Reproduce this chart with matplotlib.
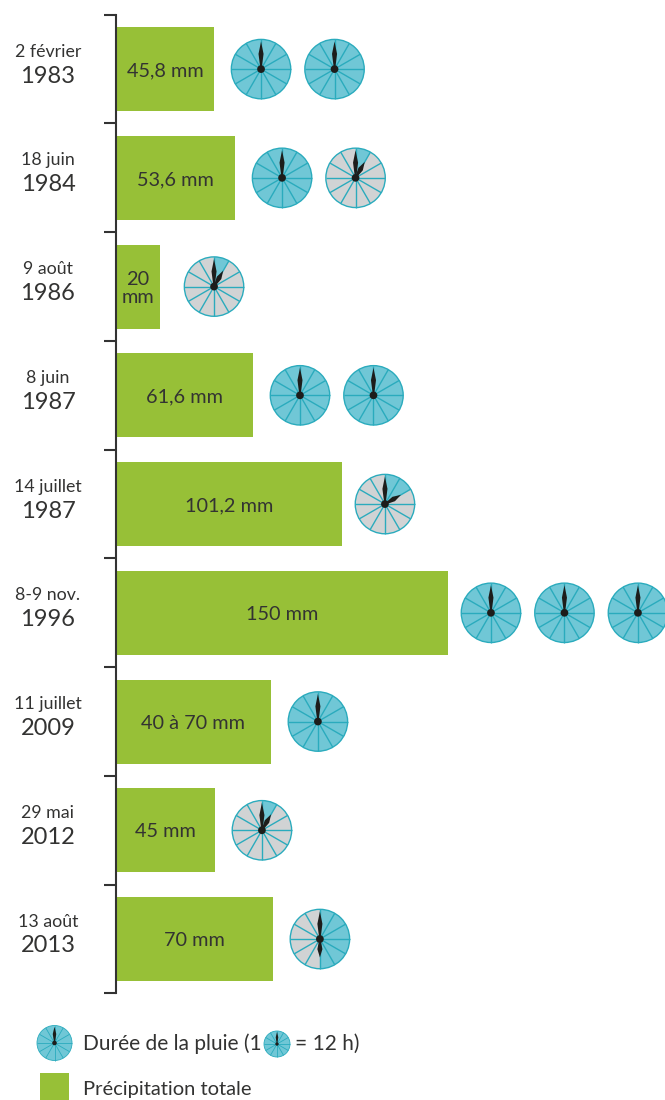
import matplotlib
matplotlib.use("Agg")
import matplotlib.pyplot as plt
import numpy as np
from matplotlib.patches import Circle, Polygon, Rectangle, Wedge

plt.rcParams["font.family"] = ["Lato", "DejaVu Sans"]

dates = ["2 février", "18 juin", "9 août", "8 juin", "14 juillet", "8-9 nov.",
         "11 juillet", "29 mai", "13 août"]
years = ["1983", "1984", "1986", "1987", "1987", "1996", "2009", "2012", "2013"]
# bar lengths as drawn in the picture, they differ a bit from the printed labels
rain_mm = [44.3, 53.8, 19.9, 61.9, 102.1, 150, 70, 44.7, 70.9]
rain_labels = ["45,8 mm", "53,6 mm", "20\nmm", "61,6 mm", "101,2 mm", "150 mm",
               "40 à 70 mm", "45 mm", "70 mm"]
duration_h = [24, 13, 1, 24, 2, 36, 12, 1, 6]

# pixel gap between bar end and first clock
clock_gap = [47, 47, 54, 47, 43, 43, 47, 47, 47]
clock_step = 73.5
clock_r = 29.7

GREEN = "#97c037"
BLUE = "#70c7d6"
GREY = "#d1d3d4"
EDGE = "#2aabbd"
DARK = "#1d1d1b"
TEXT = "#333332"

W, H = 665, 1100
px_per_mm = 2.213
row_px = 108.74
first_row = 69.1

fig = plt.figure(figsize=(W / 100, H / 100), dpi=100)
ax = fig.add_axes([0, 0, 1, 1])
ax.set_xlim(-116 / px_per_mm, (W - 116) / px_per_mm)
ax.set_ylim((H - first_row) / row_px, -first_row / row_px)
ax.patch.set_visible(False)

rows = np.arange(len(rain_mm))
ax.barh(rows, rain_mm, height=84 / row_px, color=GREEN, linewidth=0)

for s in ["top", "right", "bottom"]:
    ax.spines[s].set_visible(False)
ax.spines["left"].set_position(("data", 0))
ax.spines["left"].set_bounds(-0.5, len(rain_mm) - 0.5)
ax.spines["left"].set_linewidth(1.5)
ax.spines["left"].set_color("#333333")
ax.set_xticks([])
ax.set_yticks(np.arange(len(rain_mm) + 1) - 0.5)
ax.set_yticklabels([])
ax.tick_params(axis="y", length=8.5, width=1.5, color="#333333")

for i in rows:
    ax.annotate(dates[i], (0, i), xytext=(-49, 12.5), textcoords="offset points",
                ha="center", va="center", fontsize=12.8, color=TEXT)
    ax.annotate(years[i], (0, i), xytext=(-49, -5), textcoords="offset points",
                ha="center", va="center", fontsize=17, color=TEXT)
    ax.annotate(rain_labels[i], (rain_mm[i] / 2, i), xytext=(0, -1.2),
                textcoords="offset points", ha="center", va="center",
                fontsize=14.3, color=TEXT, linespacing=1.05)

# overlay in pixels for the clocks, y goes up so display = data
ov = fig.add_axes([0, 0, 1, 1])
ov.set_xlim(0, W)
ov.set_ylim(0, H)
ov.axis("off")


def hand(cx, cy, r, hour, length, width):
    a = np.deg2rad(90 - 30 * hour)
    u = np.array([np.cos(a), np.sin(a)])
    n = np.array([-u[1], u[0]])
    c = np.array([cx, cy])
    pts = [c + n * r * 0.02, c + u * r * length * 0.55 + n * r * width,
           c + u * r * length, c + u * r * length * 0.55 - n * r * width,
           c - n * r * 0.02]
    ov.add_patch(Polygon(pts, closed=True, fc=DARK, ec="none", zorder=5))


def clock(cx, cy, r, hours):
    lw = max(r / 30, 0.6)
    ov.add_patch(Circle((cx, cy), r, fc=GREY if hours < 12 else BLUE, ec="none", zorder=2))
    if hours < 12:
        ov.add_patch(Wedge((cx, cy), r, 90 - 30 * hours, 90, fc=BLUE, ec="none", zorder=2))
    for k in range(12):
        a = np.deg2rad(30 * k)
        ov.plot([cx, cx + r * np.cos(a)], [cy, cy + r * np.sin(a)], color=EDGE,
                lw=lw, zorder=3, solid_capstyle="butt")
    ov.add_patch(Circle((cx, cy), r, fc="none", ec=EDGE, lw=lw, zorder=4))
    w = 0.085 if r >= 29 else 0.1
    hand(cx, cy, r, 0, 0.93, w)
    if hours < 12:
        hand(cx, cy, r, hours, 0.62, w)
    ov.add_patch(Circle((cx, cy), r * 0.13, fc=DARK, ec="none", zorder=6))


for i in rows:
    end_x, y = ax.transData.transform((rain_mm[i], i))
    left = duration_h[i]
    n = 0
    while left > 0:
        clock(end_x + clock_gap[i] + n * clock_step, y, clock_r, min(left, 12))
        left -= 12
        n += 1

# legend
clock(54.5, H - 1043, 17.5, 12)
ov.text(83, H - 1044, "Durée de la pluie (1", ha="left", va="center", fontsize=15,
        color=TEXT)
clock(277, H - 1044, 13, 12)
ov.text(295, H - 1044, "= 12 h)", ha="left", va="center", fontsize=15, color=TEXT)
ov.add_patch(Rectangle((40, H - 1100), 29, 27, fc=GREEN, ec="none"))
ov.text(83, H - 1089, "Précipitation totale", ha="left", va="center", fontsize=14.5,
        color=TEXT)

fig.savefig("out.png", dpi=100)
